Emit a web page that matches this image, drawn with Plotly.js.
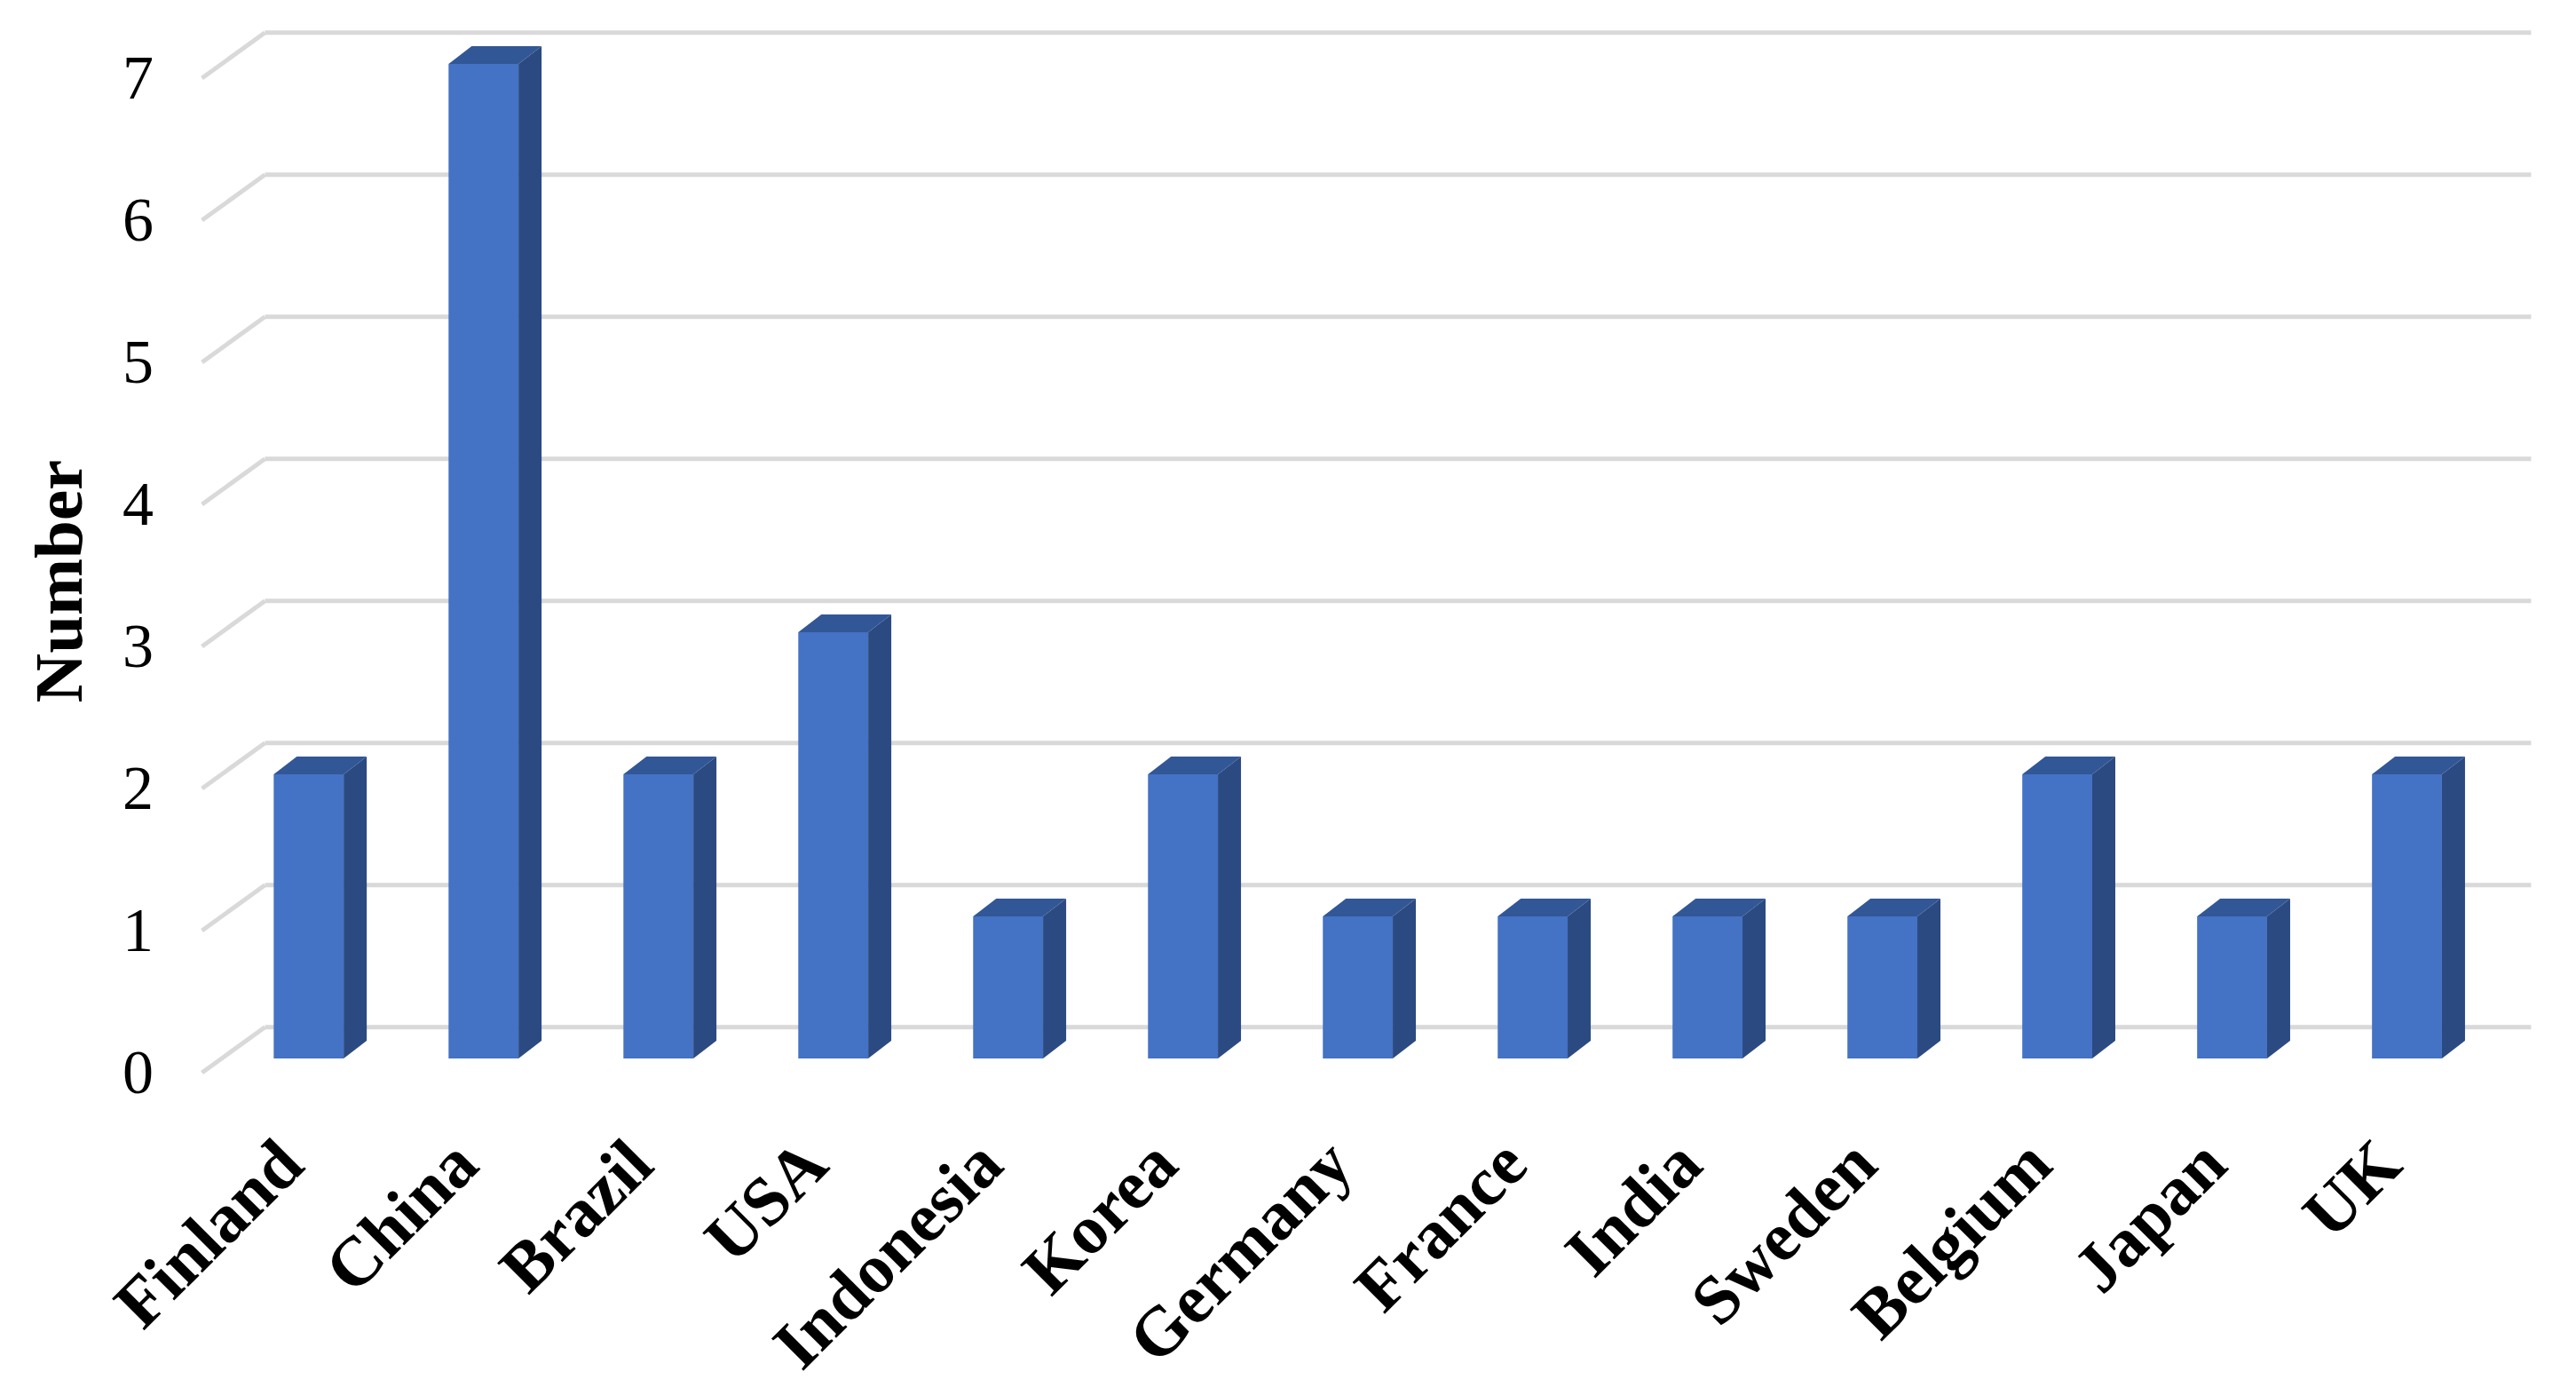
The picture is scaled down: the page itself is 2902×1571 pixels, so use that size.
<!DOCTYPE html>
<html>
<head>
<meta charset="utf-8">
<script src="https://cdn.plot.ly/plotly-3.0.1.min.js"></script>
<style>
  html, body { margin: 0; padding: 0; background: #fff; }
</style>
</head>
<body>
<div id="chart" style="width:2902px;height:1571px;"></div>
<script>
const countries = ['Finland', 'China', 'Brazil', 'USA', 'Indonesia', 'Korea', 'Germany',
  'France', 'India', 'Sweden', 'Belgium', 'Japan', 'UK']
const counts = [2, 7, 2, 3, 1, 2, 1, 1, 1, 1, 2, 1, 2]
const yTicks = [0, 1, 2, 3, 4, 5, 6, 7]

// fake 3d: depth of the bars and of the back wall, in axis units
const barHalf = 0.2
const depthX = 0.132
const depthY = 0.125
const wallX = -0.25
const wallY = 0.22
const gridEnd = 12.71

const idx = countries.map((c, i) => i)
const font = '"Liberation Serif", "Times New Roman", serif'

const sideX = [], sideY = [], topX = [], topY = []
idx.forEach(i => {
  const v = counts[i]
  const r = i + barHalf
  const l = i - barHalf
  sideX.push(r, r + depthX, r + depthX, r, r, null)
  sideY.push(0, depthY, v + depthY, v, 0, null)
  topX.push(l, r, r + depthX, l + depthX, l, null)
  topY.push(v, v, v + depthY, v + depthY, v, null)
})

const gridShapes = []
yTicks.forEach(t => {
  const line = { color: '#d9d9d9', width: 5 }
  gridShapes.push({ type: 'line', layer: 'below', xref: 'x', yref: 'y',
    x0: wallX, y0: t + wallY, x1: gridEnd, y1: t + wallY, line })
  gridShapes.push({ type: 'line', layer: 'below', xref: 'x', yref: 'y',
    x0: -0.61, y0: t - 0.1, x1: wallX, y1: t + wallY, line })
})

const data = [
  {
    type: 'bar',
    x: idx,
    y: counts,
    width: barHalf * 2,
    marker: { color: '#4472c4', line: { width: 0 } },
    hoverinfo: 'skip'
  },
  {
    type: 'scatter',
    x: sideX,
    y: sideY,
    mode: 'lines',
    fill: 'toself',
    fillcolor: '#2c4a82',
    line: { width: 0, color: '#2c4a82' },
    hoverinfo: 'skip'
  },
  {
    type: 'scatter',
    x: topX,
    y: topY,
    mode: 'lines',
    fill: 'toself',
    fillcolor: '#325796',
    line: { width: 0, color: '#325796' },
    hoverinfo: 'skip'
  }
]

const layout = {
  width: 2902,
  height: 1571,
  margin: { l: 200, r: 23, t: 16, b: 339 },
  paper_bgcolor: '#ffffff',
  plot_bgcolor: '#ffffff',
  showlegend: false,
  shapes: gridShapes,
  // y axis title sits a bit below the middle, so place it by hand
  annotations: [{
    text: '<b>Number</b>',
    xref: 'paper',
    yref: 'paper',
    x: -0.05,
    y: 0.475,
    xanchor: 'center',
    yanchor: 'middle',
    textangle: -90,
    showarrow: false,
    font: { family: font, size: 77, color: '#000000' }
  }],
  xaxis: {
    type: 'linear',
    range: [-0.75, 12.85],
    tickvals: idx,
    ticktext: countries,
    tickangle: -45,
    ticks: '',
    showgrid: false,
    zeroline: false,
    showline: false,
    ticklabelstandoff: 16,
    ticklabelshift: -30,
    tickfont: { family: font, size: 78, color: '#000000', weight: 'bold' }
  },
  yaxis: {
    range: [-0.25, 7.35],
    tickvals: yTicks,
    ticks: '',
    showgrid: false,
    zeroline: false,
    showline: false,
    ticklabelstandoff: 26,
    ticklabelshift: 14,
    tickfont: { family: font, size: 70, color: '#000000' }
  }
}

Plotly.newPlot('chart', data, layout, { displayModeBar: false, staticPlot: true })
</script>
</body>
</html>
